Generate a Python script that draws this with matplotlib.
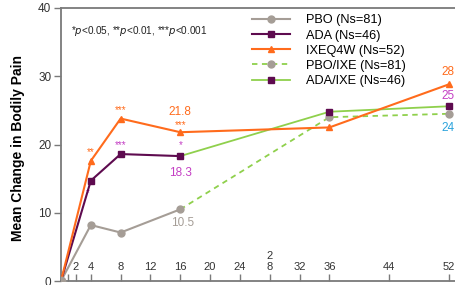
import matplotlib.pyplot as plt
from matplotlib.lines import Line2D

plt.rcParams['font.family'] = ['Liberation Sans', 'DejaVu Sans']

# ---- data ----
weeks_early = [0, 4, 8, 16]
pbo = [0, 8.2, 7.1, 10.5]
ada = [0, 14.7, 18.6, 18.3]

weeks_ixe = [0, 4, 8, 16, 36, 52]
ixe = [0, 17.6, 23.8, 21.8, 22.5, 28.8]

weeks_ext = [16, 36, 52]
pbo_ixe = [10.5, 24.0, 24.5]
ada_ixe = [18.3, 24.8, 25.6]

xtick_pos = [1, 2, 4, 8, 12, 16, 20, 24, 28, 32, 36, 44, 52]
xtick_lab = ['', '2', '4', '8', '12', '16', '20', '24', '2\n8', '32', '36', '44', '52']

legend_labels = ['PBO (Ns=81)', 'ADA (Ns=46)', 'IXEQ4W (Ns=52)',
                 'PBO/IXE (Ns=81)', 'ADA/IXE (Ns=46)']

c_gray = '#a59d96'
c_purple = '#5e0b4f'
c_orange = '#ff6b1c'
c_green = '#8fd04c'
c_magenta = '#c43fc4'
c_cyan = '#2ba3dc'

fig = plt.figure(figsize=(4.56, 2.85), dpi=100)
ax = fig.add_axes([61 / 456, 4 / 285, 410 / 456, 273 / 285])

ax.plot(weeks_ext, pbo_ixe, color=c_green, lw=1.3, ls=(0, (3, 2.5)),
        marker='o', ms=5, mfc=c_gray, mec=c_gray, markevery=[1, 2], zorder=2)
ax.plot(weeks_ext, ada_ixe, color=c_green, lw=1.3,
        marker='s', ms=5, mfc=c_purple, mec=c_purple, markevery=[1, 2], zorder=2)
ax.plot(weeks_early, pbo, color=c_gray, lw=1.5, marker='o', ms=5, zorder=3)
ax.plot(weeks_early, ada, color=c_purple, lw=1.5, marker='s', ms=5, zorder=4)
ax.plot(weeks_ixe, ixe, color=c_orange, lw=1.5, marker='^', ms=5, zorder=5)
ax.plot([0], [0], marker='o', ms=6, color=c_gray, zorder=6)

ax.set_xlim(0, 55)
ax.set_ylim(0, 40)

for s in ['left', 'bottom', 'top']:
    ax.spines[s].set_color('#7a7a7a')
    ax.spines[s].set_linewidth(1.3)
ax.spines['right'].set_visible(False)

ax.set_yticks([0, 10, 20, 30, 40])
ax.tick_params(axis='y', direction='out', length=5, width=1, color='#7a7a7a',
               labelsize=8.5, labelcolor='#333333', pad=2)
ax.set_xticks(xtick_pos)
ax.set_xticklabels(xtick_lab)
ax.tick_params(axis='x', direction='in', length=5, width=1, color='#7a7a7a',
               labelsize=8, labelcolor='#333333', pad=-6.5)
for lbl in ax.get_xticklabels():
    lbl.set_verticalalignment('bottom')
    lbl.set_linespacing(1.1)

ax.set_ylabel('Mean Change in Bodily Pain', fontsize=10, fontweight='bold')
ax.yaxis.set_label_coords(-0.088, 0.487)

ax.text(0.025, 0.915, r'*$p$<0.05, **$p$<0.01, ***$p$<0.001',
        transform=ax.transAxes, fontsize=7.2, color='#222222', va='center')

# significance stars and value labels
star = dict(ha='center', va='center', fontsize=7)
ax.text(4, 18.9, '**', color=c_orange, **star)
ax.text(3.6, 12.9, '*', color=c_magenta, **star)
ax.text(8, 25.0, '***', color=c_orange, **star)
ax.text(8, 19.9, '***', color=c_magenta, **star)
ax.text(16, 22.8, '***', color=c_orange, **star)
ax.text(16, 19.9, '*', color=c_magenta, **star)
ax.text(16, 24.8, '21.8', color=c_orange, ha='center', va='center', fontsize=8.5)
ax.text(16, 15.8, '18.3', color=c_magenta, ha='center', va='center', fontsize=8.5)
ax.text(16.3, 8.5, '10.5', color=c_gray, ha='center', va='center', fontsize=8.5)
ax.text(51.0, 30.6, '28.8', color=c_orange, ha='left', va='center', fontsize=8.5)
ax.text(51.0, 27.1, '25.7', color=c_magenta, ha='left', va='center', fontsize=8.5)
ax.text(51.0, 22.4, '24.5', color=c_cyan, ha='left', va='center', fontsize=8.5)

handles = [
    Line2D([], [], color=c_gray, lw=1.5, marker='o', ms=5),
    Line2D([], [], color=c_purple, lw=1.5, marker='s', ms=5),
    Line2D([], [], color=c_orange, lw=1.5, marker='^', ms=5),
    Line2D([], [], color=c_green, lw=1.3, ls=(0, (3, 2.5)), marker='o', ms=5,
           mfc=c_gray, mec=c_gray),
    Line2D([], [], color=c_green, lw=1.3, marker='s', ms=5,
           mfc=c_purple, mec=c_purple),
]
ax.legend(handles, legend_labels, loc='upper left', bbox_to_anchor=(0.45, 1.0),
          frameon=False, fontsize=9.2, handlelength=3.0, handletextpad=1.2,
          labelspacing=0.25, borderaxespad=0.1)

fig.savefig('out.png', dpi=100)
